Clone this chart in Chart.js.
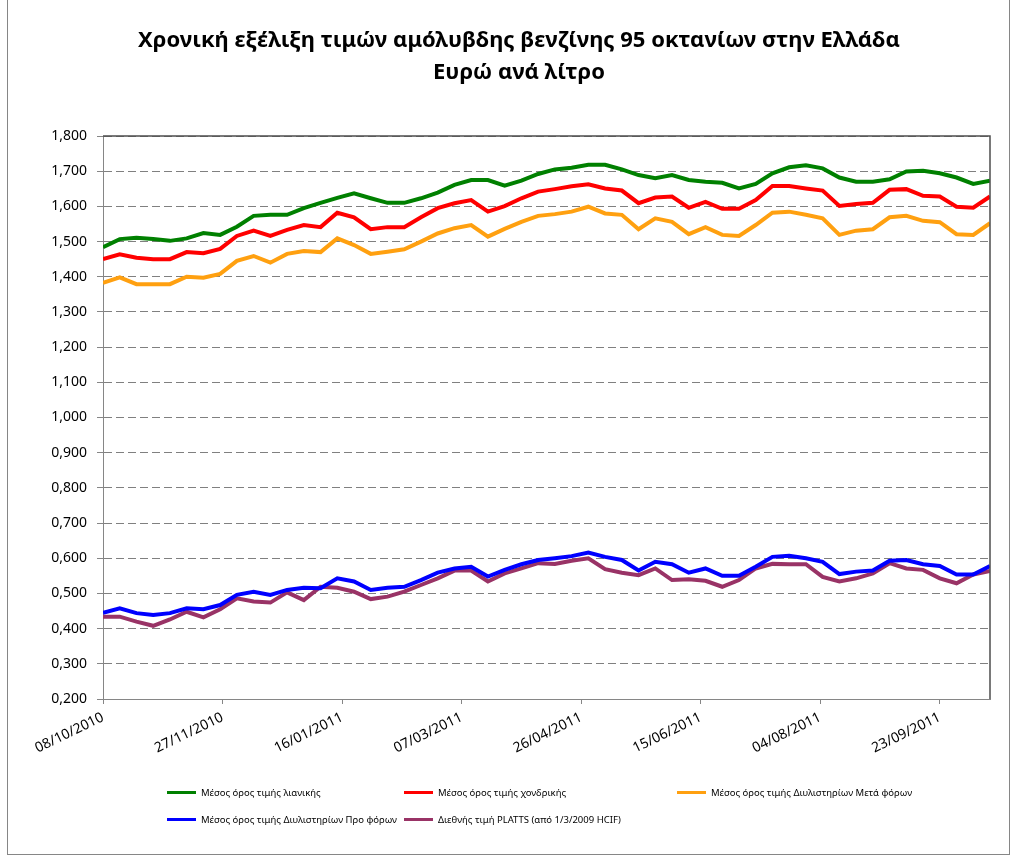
<!DOCTYPE html>
<html>
<head>
<meta charset="utf-8">
<script src="https://cdn.jsdelivr.net/npm/chart.js@4"></script>
<style>
  html, body { margin: 0; padding: 0; background: #fff; }
  #wrap { position: relative; width: 1018px; height: 859px; overflow: hidden; }
  #frame { position: absolute; left: 7px; top: -1px; width: 1003px; height: 856px; border: 1px solid #868686; box-sizing: border-box; pointer-events: none; }
  #title { position: absolute; left: 19px; width: 1000px; top: 22px; text-align: center;
           font-family: "Noto Sans", sans-serif; font-weight: bold; font-size: 22px; line-height: 32px; color: #000; }
  #legend { position: absolute; left: 0; top: 0; width: 1018px; height: 859px; pointer-events: none;
            font-family: "Noto Sans", sans-serif; font-size: 9.5px; color: #000; }
  .item { position: absolute; display: flex; align-items: center; white-space: nowrap; }
  .item span.sw { display: inline-block; width: 29px; height: 3px; margin-right: 5px; }
</style>
</head>
<body>
<div id="wrap">
  <canvas id="fuelChart" width="1018" height="859"></canvas>
  <div id="title"></div>
  <div id="legend"></div>
  <div id="frame"></div>
</div>
<script>
// weekly dates (Friday) of the series
const dates = [
  '08/10/2010','15/10/2010','22/10/2010','29/10/2010','05/11/2010','12/11/2010','19/11/2010','26/11/2010',
  '03/12/2010','10/12/2010','17/12/2010','24/12/2010','31/12/2010','07/01/2011','14/01/2011','21/01/2011',
  '28/01/2011','04/02/2011','11/02/2011','18/02/2011','25/02/2011','04/03/2011','11/03/2011','18/03/2011',
  '25/03/2011','01/04/2011','08/04/2011','15/04/2011','22/04/2011','29/04/2011','06/05/2011','13/05/2011',
  '20/05/2011','27/05/2011','03/06/2011','10/06/2011','17/06/2011','24/06/2011','01/07/2011','08/07/2011',
  '15/07/2011','22/07/2011','29/07/2011','05/08/2011','12/08/2011','19/08/2011','26/08/2011','02/09/2011',
  '09/09/2011','16/09/2011','23/09/2011','30/09/2011','07/10/2011','14/10/2011'
];

const retail = [1.484,1.507,1.511,1.507,1.502,1.509,1.524,1.519,1.542,1.573,1.576,1.576,1.595,1.610,1.624,1.637,
  1.623,1.610,1.610,1.623,1.639,1.661,1.675,1.675,1.659,1.673,1.692,1.705,1.710,1.718,1.718,1.705,
  1.689,1.680,1.689,1.675,1.670,1.667,1.651,1.664,1.694,1.711,1.717,1.708,1.682,1.670,1.670,1.677,
  1.699,1.701,1.694,1.682,1.664,1.673];
const wholesale = [1.450,1.464,1.454,1.450,1.450,1.470,1.467,1.479,1.516,1.531,1.516,1.533,1.547,1.541,1.582,1.569,
  1.535,1.541,1.541,1.569,1.595,1.609,1.618,1.585,1.601,1.623,1.642,1.649,1.657,1.663,1.651,1.645,
  1.609,1.625,1.628,1.596,1.613,1.593,1.593,1.618,1.658,1.658,1.651,1.645,1.601,1.607,1.610,1.647,
  1.649,1.630,1.628,1.599,1.596,1.628];
const refineryAfterTax = [1.383,1.398,1.379,1.379,1.379,1.400,1.397,1.408,1.445,1.459,1.440,1.465,1.473,1.470,1.509,1.490,
  1.465,1.471,1.478,1.500,1.523,1.538,1.547,1.514,1.536,1.556,1.573,1.578,1.585,1.599,1.580,1.576,
  1.535,1.566,1.556,1.521,1.541,1.519,1.516,1.547,1.582,1.585,1.576,1.566,1.519,1.531,1.535,1.569,
  1.573,1.559,1.555,1.521,1.519,1.552];
const refineryBeforeTax = [0.445,0.458,0.444,0.439,0.444,0.458,0.455,0.467,0.496,0.505,0.496,0.510,0.516,0.515,0.543,0.534,
  0.510,0.516,0.519,0.538,0.559,0.571,0.576,0.548,0.567,0.583,0.595,0.600,0.606,0.616,0.604,0.595,
  0.565,0.590,0.583,0.559,0.571,0.550,0.550,0.576,0.604,0.607,0.600,0.590,0.555,0.562,0.565,0.593,
  0.595,0.583,0.578,0.554,0.554,0.578];
const platts = [0.434,0.434,0.420,0.408,0.426,0.448,0.432,0.455,0.486,0.477,0.474,0.503,0.481,0.519,0.516,0.505,
  0.484,0.491,0.505,0.524,0.543,0.565,0.565,0.534,0.557,0.571,0.586,0.584,0.593,0.600,0.569,0.559,
  0.552,0.571,0.538,0.540,0.536,0.519,0.538,0.571,0.584,0.583,0.583,0.547,0.534,0.543,0.557,0.586,
  0.571,0.567,0.543,0.529,0.554,0.564];

const seriesNames = [
  'Μέσος όρος τιμής λιανικής',
  'Μέσος όρος τιμής χονδρικής',
  'Μέσος όρος τιμής Διυλιστηρίων Μετά φόρων',
  'Μέσος όρος τιμής Διυλιστηρίων Προ φόρων',
  'Διεθνής τιμή PLATTS (από 1/3/2009 HCIF)'
];
const seriesColors = ['#008000', '#ff0000', '#ffa010', '#0000ff', '#993366'];
const titleLines = ['Χρονική εξέλιξη τιμών αμόλυβδης βενζίνης 95 οκτανίων στην Ελλάδα', 'Ευρώ ανά λίτρο'];

const DAY = 86400000;
function parseDate(s) {
  const p = s.split('/');
  return Date.UTC(+p[2], +p[1] - 1, +p[0]);
}
const t0 = parseDate(dates[0]);
const dayOffsets = dates.map(d => Math.round((parseDate(d) - t0) / DAY));

function fmtDate(days) {
  const d = new Date(t0 + days * DAY);
  const dd = String(d.getUTCDate()).padStart(2, '0');
  const mm = String(d.getUTCMonth() + 1).padStart(2, '0');
  return dd + '/' + mm + '/' + d.getUTCFullYear();
}

const allSeries = [retail, wholesale, refineryAfterTax, refineryBeforeTax, platts];
const datasets = allSeries.map((vals, i) => ({
  label: seriesNames[i],
  data: vals.map((v, k) => ({ x: dayOffsets[k], y: v })),
  borderColor: seriesColors[i],
  backgroundColor: seriesColors[i],
  borderWidth: 4,
  pointRadius: 0,
  tension: 0,
  fill: false
}));

const plotFrame = {
  id: 'plotFrame',
  afterDraw(chart) {
    const a = chart.chartArea, ctx = chart.ctx;
    ctx.save();
    ctx.strokeStyle = '#4d4d4d';
    ctx.lineWidth = 1.5;
    ctx.beginPath();
    ctx.moveTo(a.left, a.top);
    ctx.lineTo(a.right, a.top);
    ctx.lineTo(a.right, a.bottom);
    ctx.stroke();
    ctx.restore();
  }
};

document.getElementById('title').innerHTML = titleLines.join('<br>');

const font = "'Noto Sans', sans-serif";
new Chart(document.getElementById('fuelChart'), {
  type: 'line',
  data: { datasets },
  plugins: [plotFrame],
  options: {
    responsive: false,
    animation: false,
    layout: { padding: { left: 0, right: 28, top: 136, bottom: 0 } },
    plugins: {
      legend: { display: false },
      tooltip: { enabled: false },
      title: { display: false }
    },
    scales: {
      x: {
        type: 'linear',
        min: 0,
        max: dayOffsets[dayOffsets.length - 1],
        afterFit(s) { s.height = 160; },
        grid: { drawOnChartArea: false, drawTicks: true, tickLength: 5, color: '#868686' },
        border: { color: '#868686', width: 1 },
        ticks: {
          stepSize: 50,
          includeBounds: false,
          autoSkip: false,
          minRotation: 26,
          maxRotation: 26,
          color: '#000',
          font: { family: font, size: 14 },
          padding: 5,
          callback: v => fmtDate(v)
        }
      },
      y: {
        min: 0.2,
        max: 1.8,
        afterFit(s) { s.width = 103; },
        grid: { color: '#808080', tickLength: 6, tickBorderDash: [], tickColor: '#868686' },
        border: { color: '#868686', width: 1, dash: [8, 4] },
        ticks: {
          stepSize: 0.1,
          color: '#000',
          font: { family: font, size: 14 },
          padding: 10,
          callback: v => v.toFixed(3).replace('.', ',')
        }
      }
    }
  }
});

// legend laid out in two rows / three columns like the original
const legendPos = [[167, 793], [404, 793], [677, 793], [167, 820], [404, 820]];
const legendEl = document.getElementById('legend');
seriesNames.forEach((name, i) => {
  const it = document.createElement('div');
  it.className = 'item';
  it.style.left = legendPos[i][0] + 'px';
  it.style.top = (legendPos[i][1] - 7) + 'px';
  it.innerHTML = '<span class="sw" style="background:' + seriesColors[i] + '"></span>' + name;
  legendEl.appendChild(it);
});
</script>
</body>
</html>
